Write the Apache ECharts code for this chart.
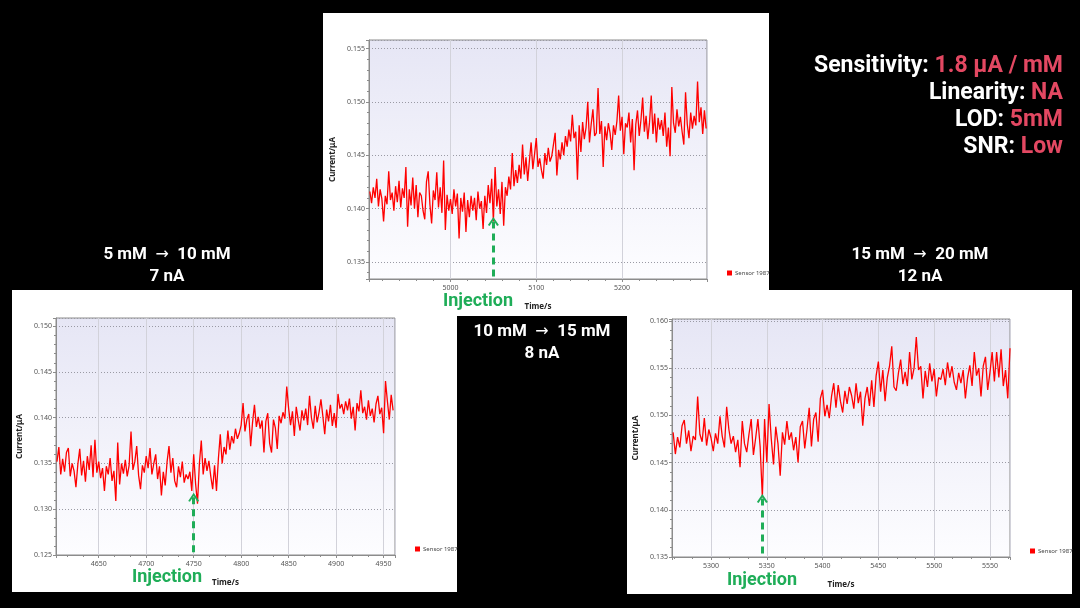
<!DOCTYPE html>
<html>
<head>
<meta charset="utf-8">
<title>Sensor 1987</title>
<script src="https://cdn.jsdelivr.net/npm/echarts@6/dist/echarts.min.js"></script>
<style>
html,body{margin:0;padding:0;background:#000;}
#main{width:1080px;height:608px;}
</style>
</head>
<body>
<div id="main"></div>
<script>
// sampling step (s)
var dt = 2;

// top panel: 10 mM -> 15 mM
var topStart = 4906;
var topValues = [
    0.1416, 0.1405, 0.1420, 0.1410, 0.1428, 0.1402, 0.1418, 0.1409, 0.1388, 0.1412,
    0.1404, 0.1435, 0.1408, 0.1415, 0.1398, 0.1421, 0.1406, 0.1426, 0.1401, 0.1419,
    0.1410, 0.1439, 0.1383, 0.1418, 0.1403, 0.1429, 0.1400, 0.1422, 0.1392, 0.1415,
    0.1412, 0.1398, 0.1390, 0.1425, 0.1435, 0.1404, 0.1386, 0.1417, 0.1408, 0.1434,
    0.1401, 0.1420, 0.1396, 0.1445, 0.1380, 0.1413, 0.1398, 0.1409, 0.1395, 0.1418,
    0.1402, 0.1414, 0.1372, 0.1410, 0.1397, 0.1415, 0.1378, 0.1408, 0.1392, 0.1412,
    0.1398, 0.1410, 0.1389, 0.1416, 0.1400, 0.1407, 0.1381, 0.1412, 0.1396, 0.1422,
    0.1405, 0.1428, 0.1388, 0.1439, 0.1402, 0.1418, 0.1395, 0.1425, 0.1384, 0.1420,
    0.1412, 0.1430, 0.1418, 0.1452, 0.1421, 0.1436, 0.1424, 0.1441, 0.1428, 0.1460,
    0.1432, 0.1448, 0.1426, 0.1445, 0.1462, 0.1437, 0.1451, 0.1466, 0.1439, 0.1447,
    0.1436, 0.1428, 0.1452, 0.1441, 0.1457, 0.1444, 0.1449, 0.1460, 0.1471, 0.1431,
    0.1455, 0.1446, 0.1462, 0.1450, 0.1468, 0.1458, 0.1474, 0.1463, 0.1488, 0.1466,
    0.1472, 0.1427, 0.1478, 0.1453, 0.1481, 0.1465, 0.1476, 0.1500, 0.1462, 0.1479,
    0.1493, 0.1468, 0.1471, 0.1513, 0.1470, 0.1482, 0.1439, 0.1477, 0.1464, 0.1480,
    0.1471, 0.1455, 0.1478, 0.1469, 0.1482, 0.1506, 0.1473, 0.1486, 0.1451, 0.1480,
    0.1476, 0.1490, 0.1462, 0.1484, 0.1436, 0.1479, 0.1492, 0.1468, 0.1483, 0.1504,
    0.1472, 0.1487, 0.1465, 0.1481, 0.1506, 0.1470, 0.1489, 0.1462, 0.1485, 0.1474,
    0.1483, 0.1468, 0.1490, 0.1458, 0.1476, 0.1449, 0.1514, 0.1480, 0.1471, 0.1493,
    0.1477, 0.1486, 0.1472, 0.1460, 0.1509, 0.1479, 0.1466, 0.1490, 0.1475, 0.1487,
    0.1478, 0.1519, 0.1481, 0.1495, 0.1470, 0.1492, 0.1475
];

// left panel: 5 mM -> 10 mM
var leftStart = 4606;
var leftValues = [
    0.1352, 0.1368, 0.1338, 0.1355, 0.1341, 0.1362, 0.1367, 0.1336, 0.1350, 0.1342,
    0.1324, 0.1349, 0.1366, 0.1337, 0.1353, 0.1330, 0.1358, 0.1343, 0.1370, 0.1335,
    0.1376, 0.1340, 0.1352, 0.1334, 0.1345, 0.1320, 0.1347, 0.1338, 0.1356, 0.1331,
    0.1342, 0.1309, 0.1373, 0.1327, 0.1350, 0.1339, 0.1354, 0.1336, 0.1348, 0.1385,
    0.1343, 0.1352, 0.1369, 0.1337, 0.1322, 0.1348, 0.1340, 0.1358, 0.1345, 0.1367,
    0.1338, 0.1350, 0.1360, 0.1333, 0.1347, 0.1315, 0.1341, 0.1326, 0.1352, 0.1369,
    0.1340, 0.1356, 0.1331, 0.1324, 0.1347, 0.1335, 0.1352, 0.1329, 0.1338, 0.1333,
    0.1341, 0.1320, 0.1360, 0.1328, 0.1306, 0.1350, 0.1375, 0.1338, 0.1356, 0.1342,
    0.1353, 0.1336, 0.1322, 0.1348, 0.1320, 0.1355, 0.1382, 0.1350, 0.1368, 0.1360,
    0.1386, 0.1365, 0.1380, 0.1372, 0.1388, 0.1377, 0.1383, 0.1392, 0.1416, 0.1385,
    0.1398, 0.1404, 0.1369, 0.1395, 0.1414, 0.1390, 0.1401, 0.1388, 0.1397, 0.1362,
    0.1396, 0.1405, 0.1372, 0.1362, 0.1398, 0.1389, 0.1366, 0.1402, 0.1394, 0.1406,
    0.1399, 0.1434, 0.1410, 0.1392, 0.1407, 0.1380, 0.1412, 0.1398, 0.1386, 0.1408,
    0.1397, 0.1410, 0.1392, 0.1424, 0.1400, 0.1388, 0.1413, 0.1395, 0.1406, 0.1420,
    0.1402, 0.1382, 0.1409, 0.1396, 0.1414, 0.1391, 0.1405, 0.1389, 0.1426, 0.1410,
    0.1415, 0.1404, 0.1418, 0.1408, 0.1421, 0.1399, 0.1412, 0.1386, 0.1416, 0.1407,
    0.1430, 0.1405, 0.1412, 0.1398, 0.1419, 0.1402, 0.1410, 0.1395, 0.1415, 0.1424,
    0.1404, 0.1411, 0.1383, 0.1440, 0.1418, 0.1398, 0.1425, 0.1408
];

// right panel: 15 mM -> 20 mM
var rightStart = 5266;
var rightValues = [
    0.1482, 0.1459, 0.1477, 0.1466, 0.1489, 0.1495, 0.1470, 0.1484, 0.1462, 0.1478,
    0.1474, 0.1520, 0.1480, 0.1472, 0.1497, 0.1468, 0.1485, 0.1476, 0.1462, 0.1481,
    0.1470, 0.1499, 0.1478, 0.1466, 0.1509, 0.1485, 0.1470, 0.1478, 0.1461, 0.1474,
    0.1445, 0.1494, 0.1470, 0.1461, 0.1480, 0.1496, 0.1458, 0.1476, 0.1496, 0.1467,
    0.1413, 0.1496, 0.1450, 0.1512, 0.1475, 0.1448, 0.1488, 0.1470, 0.1436, 0.1482,
    0.1469, 0.1494, 0.1474, 0.1482, 0.1463, 0.1477, 0.1450, 0.1488, 0.1494, 0.1465,
    0.1485, 0.1508, 0.1467, 0.1496, 0.1503, 0.1472, 0.1518, 0.1527, 0.1499, 0.1511,
    0.1497, 0.1520, 0.1534, 0.1508, 0.1532, 0.1515, 0.1503, 0.1526, 0.1512, 0.1530,
    0.1521, 0.1507, 0.1534, 0.1513, 0.1525, 0.1489, 0.1518, 0.1530, 0.1510, 0.1537,
    0.1509, 0.1542, 0.1557, 0.1525, 0.1548, 0.1515, 0.1540, 0.1552, 0.1573, 0.1530,
    0.1526, 0.1545, 0.1559, 0.1533, 0.1546, 0.1531, 0.1567, 0.1538, 0.1550, 0.1583,
    0.1548, 0.1552, 0.1518, 0.1547, 0.1530, 0.1555, 0.1536, 0.1549, 0.1520, 0.1540,
    0.1538, 0.1549, 0.1532, 0.1556, 0.1540, 0.1552, 0.1535, 0.1527, 0.1545, 0.1534,
    0.1548, 0.1518, 0.1540, 0.1553, 0.1531, 0.1567, 0.1542, 0.1550, 0.1520, 0.1552,
    0.1562, 0.1527, 0.1545, 0.1567, 0.1536, 0.1567, 0.1540, 0.1570, 0.1531, 0.1548,
    0.1518, 0.1571
];

// injection time and current at arrow tip: top, left, right
var injectionTimes = [5050, 4750, 5346];
var injectionTips = [0.1388, 0.1313, 0.1412];

// concentration steps (from, to) and response
var stepFrom = ['10 mM', '5 mM', '15 mM'];
var stepTo = ['15 mM', '10 mM', '20 mM'];
var stepCurrents = ['8 nA', '7 nA', '12 nA'];

var metricNames = ['Sensitivity: ', 'Linearity: ', 'LOD: ', 'SNR: '];
var metricValues = ['1.8 \u03bcA / mM', 'NA', '5mM', 'Low'];

var seriesName = 'Sensor 1987';

// axis ranges
var xMin = [4905, 4605, 5265];
var xMax = [5299, 4962, 5568];
var yMin = [0.1334, 0.125, 0.135];
var yMax = [0.1558, 0.1509, 0.1602];

var GREEN = '#1fad58';
var PINK = '#e34862';
var arrowPath = 'path://M0,9 L5,0 L10,9 L8.4,10 L5,3.6 L1.6,10 Z';

function toPairs(start, values) {
    var out = [];
    for (var i = 0; i < values.length; i++) {
        out.push([start + i * dt, values[i]]);
    }
    return out;
}

var myChart = echarts.init(document.getElementById('main'));

var grids = [
    {left: 369, top: 40, width: 338, height: 239},
    {left: 56, top: 318, width: 339, height: 237},
    {left: 672, top: 319, width: 338, height: 238}
];
var xSplit = [4, 7, 6];
var xMinorSplit = [5, 3, 3];
var legendPos = [[727, 270], [415, 546], [1030, 548]];
var dataSets = [toPairs(topStart, topValues), toPairs(leftStart, leftValues), toPairs(rightStart, rightValues)];

var gridOpts = [], xAxes = [], yAxes = [], series = [], legends = [];
for (var i = 0; i < 3; i++) {
    gridOpts.push({
        left: grids[i].left, top: grids[i].top, width: grids[i].width, height: grids[i].height,
        show: true,
        borderColor: '#8c8c8c',
        borderWidth: 1,
        backgroundColor: {
            type: 'linear', x: 0, y: 0, x2: 0, y2: 1,
            colorStops: [{offset: 0, color: '#e6e6f5'}, {offset: 1, color: '#fdfdff'}]
        }
    });
    xAxes.push({
        type: 'value', gridIndex: i,
        min: xMin[i], max: xMax[i], splitNumber: xSplit[i],
        name: 'Time/s', nameLocation: 'middle', nameGap: 24,
        nameTextStyle: {fontSize: 8, fontWeight: 'bold', color: '#222', fontFamily: 'Noto Sans'},
        axisLine: {onZero: false, lineStyle: {color: '#8c8c8c', width: 1}},
        axisTick: {show: true, length: 3, lineStyle: {color: '#8c8c8c'}},
        minorTick: {show: true, splitNumber: xMinorSplit[i], length: 2, lineStyle: {color: '#8c8c8c'}},
        axisLabel: {
            fontSize: 7, color: '#555', margin: 5, showMinLabel: false, showMaxLabel: false, fontFamily: 'Noto Sans',
            formatter: function (v) { return String(Math.round(v)); }
        },
        splitLine: {show: true, lineStyle: {color: '#d2d2da', width: 1}}
    });
    yAxes.push({
        type: 'value', gridIndex: i,
        min: yMin[i], max: yMax[i], splitNumber: 5,
        name: 'Current/\u03bcA', nameLocation: 'middle', nameGap: 32, nameRotate: 90,
        nameTextStyle: {fontSize: 8, fontWeight: 'bold', color: '#222', fontFamily: 'Noto Sans'},
        axisLine: {show: true, onZero: false, lineStyle: {color: '#8c8c8c', width: 1}},
        axisTick: {show: true, length: 3, lineStyle: {color: '#8c8c8c'}},
        minorTick: {show: true, splitNumber: 5, length: 2, lineStyle: {color: '#8c8c8c'}},
        axisLabel: {
            fontSize: 7, color: '#555', margin: 4, showMinLabel: i !== 0, showMaxLabel: false, fontFamily: 'Noto Sans',
            formatter: function (v) { return v.toFixed(3); }
        },
        splitLine: {show: true, lineStyle: {color: '#9a9aa4', width: 1, type: [1, 2]}}
    });
    series.push({
        name: seriesName,
        type: 'line',
        xAxisIndex: i, yAxisIndex: i,
        showSymbol: false,
        lineStyle: {color: '#ff0000', width: 1.3},
        itemStyle: {color: '#ff0000'},
        data: dataSets[i],
        markLine: {
            silent: true,
            symbol: [arrowPath, 'none'],
            symbolSize: [11, 9],
            label: {show: false},
            lineStyle: {color: GREEN, width: 3, type: [7, 5], opacity: 1},
            data: [[
                {coord: [injectionTimes[i], injectionTips[i]]},
                {coord: [injectionTimes[i], yMin[i]]}
            ]]
        }
    });
    legends.push({
        data: [seriesName],
        left: legendPos[i][0], top: legendPos[i][1],
        padding: 0,
        icon: 'rect', itemWidth: 5, itemHeight: 5,
        selectedMode: false,
        textStyle: {fontSize: 6, color: '#444', fontFamily: 'Noto Sans', padding: [0, 0, 0, -2]}
    });
}

// panels and texts
var graphics = [
    {type: 'rect', z: -1, shape: {x: 323, y: 13, width: 446, height: 303}, style: {fill: '#fff'}},
    {type: 'rect', z: -1, shape: {x: 12, y: 290, width: 445, height: 302}, style: {fill: '#fff'}},
    {type: 'rect', z: -1, shape: {x: 627, y: 290, width: 445, height: 304}, style: {fill: '#fff'}}
];
function addText(txt, x, y, size, color, rich) {
    graphics.push({
        type: 'text', z: 10,
        style: {
            text: txt, x: x, y: y,
            fill: color,
            font: 'bold ' + size + 'px Roboto',
            textAlign: 'center', align: 'center',
            textVerticalAlign: 'middle', verticalAlign: 'middle',
            rich: rich
        }
    });
}
var arrowRich = {
    t: {fill: '#fff', fontSize: 17, fontWeight: 'bold', fontFamily: 'Roboto'},
    a: {fill: '#fff', fontSize: 16, fontWeight: 'normal', fontFamily: 'DejaVu Sans'}
};
var stepPos = [[542, 332, 354], [167, 255, 277], [920, 255, 277]];
for (var k = 0; k < 3; k++) {
    addText('{t|' + stepFrom[k] + '  }{a|\u2192}{t|  ' + stepTo[k] + '}', stepPos[k][0], stepPos[k][1], 17, '#fff', arrowRich);
    addText(stepCurrents[k], stepPos[k][0], stepPos[k][2], 17, '#fff');
}
var injPos = [[478, 301], [167, 577], [762, 580]];
for (var k = 0; k < 3; k++) {
    addText('Injection', injPos[k][0], injPos[k][1], 18, GREEN);
}
var metricY = [66, 93, 120, 147];
for (var m = 0; m < metricNames.length; m++) {
    graphics.push({
        type: 'text', z: 10,
        style: {
            text: '{w|' + metricNames[m] + '}{r|' + metricValues[m] + '}',
            x: 1063, y: metricY[m],
            font: 'bold 23px Roboto',
            textAlign: 'right', align: 'right',
            textVerticalAlign: 'middle', verticalAlign: 'middle',
            rich: {
                w: {fill: '#fff', color: '#fff', fontSize: 23, fontWeight: 'bold', fontFamily: 'Roboto'},
                r: {fill: PINK, color: PINK, fontSize: 23, fontWeight: 'bold', fontFamily: 'Roboto'}
            }
        }
    });
}

var option = {
    backgroundColor: '#000',
    animation: false,
    grid: gridOpts,
    xAxis: xAxes,
    yAxis: yAxes,
    legend: legends,
    graphic: graphics,
    series: series
};
myChart.setOption(option);
</script>
</body>
</html>
